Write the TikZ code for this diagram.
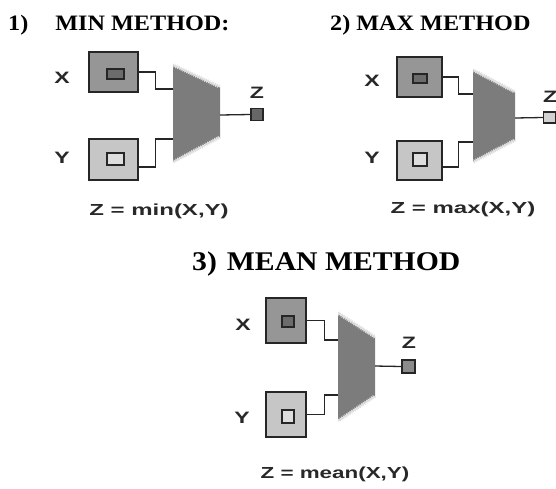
\documentclass[tikz,border=0pt]{standalone}
\usepackage{fontspec}
\usetikzlibrary{decorations.pathmorphing}
\definecolor{darkbox}{RGB}{150,150,150}
\definecolor{darkcore}{RGB}{108,108,108}
\definecolor{lightbox}{RGB}{198,198,198}
\definecolor{lightcore}{RGB}{222,222,222}
\definecolor{muxgray}{RGB}{124,124,124}
\definecolor{textgray}{RGB}{40,40,40}
\newfontfamily\headfont[FakeStretch=1.1]{Liberation Serif}
\newfontfamily\labfont{Liberation Sans}
\newcommand{\wide}[2][1.4]{\scalebox{#1}[1]{#2}}

\begin{document}
\begin{tikzpicture}[x=1pt,y=-1pt,
    box/.style={draw=black!85, line width=1.5pt, inner sep=0pt},
    wire/.style={draw=black!85, line width=1.3pt},
    jag/.style={draw=gray!25, line width=1.2pt, decorate, decoration={zigzag, amplitude=0.9pt, segment length=2pt}},
    head/.style={font={\headfont\bfseries\fontsize{22}{24}\selectfont}, inner sep=0pt, anchor=base west},
    lab/.style={font={\labfont\bfseries\fontsize{16.5}{18}\selectfont}, text=textgray, inner sep=0pt, anchor=base},
    formula/.style={font={\labfont\bfseries\fontsize{16}{19}\selectfont}, text=textgray, inner sep=0pt, anchor=base}]
    \useasboundingbox (0,0) rectangle (556,488);

    % Titles
    \node[head] (t1) at (8,30) {1)\hspace{27pt}MIN METHOD:};
    \node[head] (t2) at (330,30) {2) MAX METHOD};
    \node[head, font={\headfont\bfseries\fontsize{27}{29}\selectfont}] (t3) at (192,270) {3)\hspace{10pt}MEAN METHOD};

    % ---- 1) min method ----
    \node[box, fill=darkbox, minimum width=49pt, minimum height=40pt] (x1) at (113.5,72) {};
    \node[box, fill=darkcore, minimum width=17pt, minimum height=10pt] (x1c) at (115.5,74) {};
    \node[box, fill=lightbox, minimum width=49pt, minimum height=41pt] (y1) at (113.5,159.5) {};
    \node[box, fill=lightcore, minimum width=17pt, minimum height=12pt] (y1c) at (115.5,159) {};
    \node[lab] (lx1) at (62,83) {\wide{X}};
    \node[lab] (ly1) at (62,163) {\wide{Y}};
    % mixer block
    \fill[muxgray] (173,65) -- (220,87) -- (220,137) -- (173,162) -- cycle;
    \draw[jag] (173,65) -- (220,87);
    \draw[jag] (220,137) -- (173,162);
    \coordinate (m1x) at (173,89);
    \coordinate (m1y) at (173,139);
    \coordinate (m1o) at (220,115);
    \draw[wire] (x1.east) -- ++(17,0) |- (m1x);
    \draw[wire] ([yshift=-7.5pt]y1.east) -- ++(17,0) |- (m1y);
    \node[box, fill=darkcore!95!black, minimum width=12pt, minimum height=12pt] (z1) at (257,114.5) {};
    \draw[wire] (m1o) -- (z1.west);
    \node[lab] (lz1) at (257,98) {\wide{Z}};
    \node[formula] (f1) at (159,215) {\wide[1.5]{Z = min(X,Y)}};

    % ---- 2) max method ----
    \node[box, fill=darkbox, minimum width=45pt, minimum height=40pt] (x2) at (419.5,77) {};
    \node[box, fill=darkcore, minimum width=14pt, minimum height=9pt] (x2c) at (420,78.5) {};
    \node[box, fill=lightbox, minimum width=45pt, minimum height=39pt] (y2) at (419.5,160.5) {};
    \node[box, fill=lightcore, minimum width=14pt, minimum height=13pt] (y2c) at (420,159.5) {};
    \node[lab] (lx2) at (372,86) {\wide{X}};
    \node[lab] (ly2) at (372,163) {\wide{Y}};
    % mixer block
    \fill[muxgray] (473,70) -- (515,92) -- (515,140) -- (473,162) -- cycle;
    \draw[jag] (473,70) -- (515,92);
    \draw[jag] (515,140) -- (473,162);
    \coordinate (m2x) at (473,94);
    \coordinate (m2y) at (473,142);
    \coordinate (m2o) at (515,118);
    \draw[wire] (x2.east) -- ++(16,0) |- (m2x);
    \draw[wire] ([yshift=-6.5pt]y2.east) -- ++(16,0) |- (m2y);
    \node[box, fill=lightbox!80!white, minimum width=12pt, minimum height=11pt] (z2) at (549.5,117.5) {};
    \draw[wire] (m2o) -- (z2.west);
    \node[lab, anchor=base west] (lz2) at (543,102) {\wide{Z}};
    \node[formula] (f2) at (463,213) {\wide[1.5]{Z = max(X,Y)}};

    % ---- 3) mean method ----
    \node[box, fill=darkbox, minimum width=40pt, minimum height=45pt] (x3) at (286,320.5) {};
    \node[box, fill=darkcore, minimum width=12pt, minimum height=11pt] (x3c) at (288,321.5) {};
    \node[box, fill=lightbox, minimum width=40pt, minimum height=45pt] (y3) at (286,414.5) {};
    \node[box, fill=lightcore, minimum width=12pt, minimum height=13pt] (y3c) at (288,416.5) {};
    \node[lab] (lx3) at (243,330) {\wide{X}};
    \node[lab] (ly3) at (242,423) {\wide{Y}};
    % mixer block
    \fill[muxgray] (338,313) -- (375,337) -- (375,396) -- (338,421) -- cycle;
    \draw[jag] (338,313) -- (375,337);
    \draw[jag] (375,396) -- (338,421);
    \coordinate (m3x) at (338,340);
    \coordinate (m3y) at (338,395);
    \coordinate (m3o) at (375,366);
    \draw[wire] (x3.east) -- ++(18,0) |- (m3x);
    \draw[wire] (y3.east) -- ++(18,0) |- (m3y);
    \node[box, fill=darkbox!110!white, minimum width=13pt, minimum height=13pt] (z3) at (408.5,366.5) {};
    \draw[wire] (m3o) -- (z3.west);
    \node[lab] (lz3) at (409,348) {\wide{Z}};
    \node[formula] (f3) at (335,478) {\wide[1.4]{Z = mean(X,Y)}};
\end{tikzpicture}
\end{document}
